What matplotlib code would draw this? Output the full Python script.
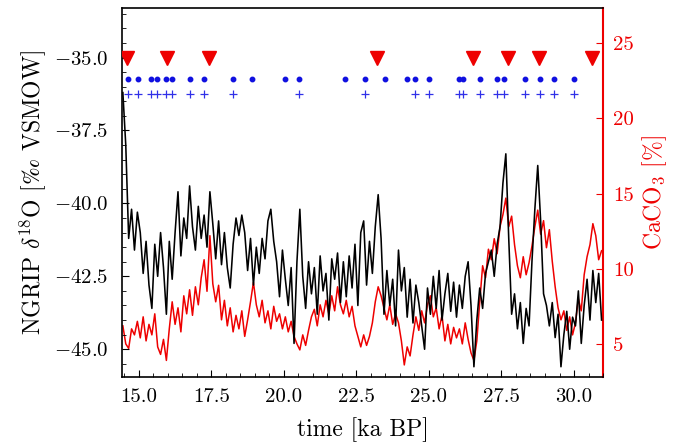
import numpy as np
import matplotlib
matplotlib.use("Agg")
import matplotlib.pyplot as plt
from matplotlib.ticker import MultipleLocator

plt.rcParams['font.family'] = ['cmr10', 'DejaVu Serif']
plt.rcParams['mathtext.fontset'] = 'cm'
plt.rcParams['axes.formatter.use_mathtext'] = True
plt.rcParams['axes.unicode_minus'] = True

# ---- data ----
time_start = 14.45
time_step = 0.1

ngrip_d18o = [
    -36.2, -38.0, -41.2, -40.2, -41.6, -40.3,
    -41.0, -42.4, -41.3, -42.8, -43.6, -41.4, -42.5, -41.0, -42.2, -43.8,
    -41.3, -42.6, -41.0, -39.6, -41.8, -40.5, -41.2, -39.4, -40.8, -41.6,
    -40.1, -41.2, -40.4, -41.5, -39.6, -40.7, -41.9, -40.6, -42.1, -41.0,
    -42.2, -42.9, -41.4, -40.5, -41.1, -40.4, -41.0, -42.3, -41.2, -42.8,
    -41.5, -42.4, -41.2, -41.9, -40.6, -40.2, -41.3, -42.0, -43.2, -41.6,
    -42.6, -43.5, -42.2, -44.8, -42.0, -40.2, -42.5, -43.6, -42.0, -43.1,
    -42.2, -43.8, -41.8, -43.0, -42.4, -44.0, -41.9, -42.6, -41.7, -43.4,
    -42.0, -43.2, -41.8, -42.9, -41.4, -43.5, -41.0, -40.6, -42.8, -41.3,
    -42.4, -40.8, -39.7, -41.2, -43.8, -42.3, -43.5, -42.6, -44.2, -41.6,
    -43.0, -42.2, -43.9, -42.6, -44.1, -42.8, -43.4, -44.2, -45.0, -42.9,
    -43.8, -42.5, -43.6, -42.3, -44.0, -43.1, -42.4, -43.7, -42.7, -43.9,
    -42.8, -43.6, -42.5, -42.0, -43.5, -45.6, -44.0, -42.9, -43.6, -42.4,
    -42.0, -41.6, -42.5, -41.4, -40.8, -39.3, -38.3, -41.2, -43.8, -43.1,
    -44.3, -43.4, -44.8, -43.6, -44.2, -42.0, -40.2, -38.7, -40.6, -43.1,
    -43.5, -44.2, -43.4, -44.6, -43.8, -45.6, -44.5, -43.7, -45.0, -43.9,
    -44.2, -43.0, -44.8, -43.5, -42.6, -44.0, -42.3, -43.4, -42.4, -44.0,
]

caco3 = [
    6.2, 5.0, 4.7, 6.0, 5.6, 6.5,
    5.4, 6.8, 5.2, 6.3, 5.6, 7.0, 4.8, 4.3, 5.3, 3.9,
    6.0, 7.8, 6.3, 7.4, 5.8, 8.2, 7.0, 8.6, 6.9, 8.8,
    7.6, 9.4, 10.6, 8.5, 12.2, 9.0, 7.8, 8.9, 6.6, 7.9,
    6.2, 7.4, 5.8, 6.9, 6.0, 7.2, 5.5, 6.6, 7.8, 9.1,
    7.6, 6.8, 7.9, 6.4, 7.2, 6.0, 7.5, 6.5, 7.0, 6.0,
    6.8, 5.8, 6.5, 5.5, 5.0, 4.6, 5.6, 4.9, 5.9, 6.8,
    7.3, 6.2, 7.6, 6.8, 7.9, 7.0, 8.2, 7.2, 8.8, 7.6,
    7.0, 7.9, 6.8, 7.5, 6.2, 5.5, 4.8, 5.6, 4.9, 5.5,
    6.4, 7.8, 8.8, 8.2, 7.4, 6.6, 7.6, 6.3, 7.0, 6.4,
    5.2, 3.6, 4.8, 4.2, 5.6, 6.8, 5.9, 7.2, 6.4, 7.6,
    8.2, 6.8, 7.4, 6.0, 6.9, 5.2, 6.3, 5.0, 6.1, 5.4,
    6.0, 5.0, 6.4, 5.3, 4.4, 3.9, 5.2, 7.8, 10.2, 9.4,
    11.3, 10.6, 12.0, 11.0, 12.8, 13.6, 14.7, 12.8, 13.5, 11.6,
    10.2, 9.4, 10.8, 9.6, 10.4, 11.5, 12.8, 13.9, 12.3, 13.2,
    11.4, 12.6, 10.5, 8.8, 7.4, 6.6, 7.2, 5.9, 6.8, 5.6,
    6.4, 8.0, 7.2, 9.6, 10.8, 11.6, 13.0, 12.2, 10.6, 11.2,
]

triangle_times = [14.6, 15.96, 17.43, 23.22, 26.53, 27.71, 28.78, 30.61]
triangle_level = -35.0

dot_times = [14.63, 14.98, 15.41, 15.61, 15.92, 16.15, 16.76, 17.25, 18.24,
             18.90, 20.05, 20.53, 22.12, 22.81, 23.50, 24.23, 24.52, 25.00,
             26.04, 26.16, 26.76, 27.36, 27.57, 28.31, 28.84, 29.30, 29.99]
dot_level = -35.75

plus_times = [14.63, 14.98, 15.41, 15.61, 15.92, 16.15, 16.76, 17.25, 18.24,
              20.53, 22.81, 24.52, 25.00, 26.04, 26.16, 26.76, 27.36, 27.57,
              28.31, 28.84, 29.30, 29.99]
plus_level = -36.25

xticks = [15.0, 17.5, 20.0, 22.5, 25.0, 27.5, 30.0]
yticks_left = [-45.0, -42.5, -40.0, -37.5, -35.0]
yticks_right = [5, 10, 15, 20, 25]

time = time_start + time_step * np.arange(len(ngrip_d18o))

RED = '#ee0000'

fig = plt.figure(figsize=(6.74, 4.44), dpi=100)
ax = fig.add_axes([0.181, 0.151, 0.7137, 0.831])
ax2 = ax.twinx()

ax.plot(time, ngrip_d18o, color='black', lw=1.15, zorder=3)
ax2.plot(time, caco3, color=RED, lw=1.1, zorder=2)

ax.set_zorder(2)
ax.patch.set_visible(False)
ax2.set_zorder(1)

ax.plot(triangle_times, [triangle_level] * len(triangle_times), linestyle='none',
        marker='v', color=RED, markersize=10, zorder=5)
ax.plot(dot_times, [dot_level] * len(dot_times), linestyle='none',
        marker='o', color='#1010e0', markersize=3.2, zorder=5)
ax.plot(plus_times, [plus_level] * len(plus_times), linestyle='none',
        marker='+', color='#3030e8', markersize=6, markeredgewidth=0.9, zorder=5)

ax.set_xlim(14.42, 31.0)
ax.set_ylim(-45.95, -33.3)
ax2.set_ylim(2.8, 27.35)

ax.set_xticks(xticks)
ax.set_xticklabels([f"{v:.1f}" for v in xticks])
ax.set_yticks(yticks_left)
ax.set_yticklabels([f"$-${abs(v):.1f}" for v in yticks_left])
ax.xaxis.set_minor_locator(MultipleLocator(0.5))
ax.yaxis.set_minor_locator(MultipleLocator(0.5))
ax2.set_yticks(yticks_right)
ax2.set_yticklabels([str(v) for v in yticks_right])

ax.tick_params(axis='both', which='both', direction='in', labelsize=15, top=False, right=False)
ax.tick_params(axis='y', which='major', length=5, pad=10)
ax.tick_params(axis='y', which='minor', length=3)
ax.tick_params(axis='x', which='major', length=5, pad=8)
ax.tick_params(axis='x', which='minor', length=3)
ax2.tick_params(axis='y', which='both', direction='in', colors=RED, labelsize=15, length=5, pad=7)

for s in ['left', 'top', 'bottom']:
    ax2.spines[s].set_visible(False)
ax.spines['right'].set_visible(False)
ax2.spines['right'].set_color(RED)
ax2.spines['right'].set_linewidth(1.5)
for s in ['left', 'top', 'bottom']:
    ax.spines[s].set_linewidth(1.2)

ax.set_xlabel("time [ka BP]", fontsize=17, labelpad=8)
ax.set_ylabel(r"NGRIP $\delta^{18}$O [$‰$ VSMOW]", fontsize=17, labelpad=4)
ax2.set_ylabel(r"CaCO$_3$ [%]", fontsize=17, color=RED, labelpad=5)

fig.savefig("out.png", dpi=100)
